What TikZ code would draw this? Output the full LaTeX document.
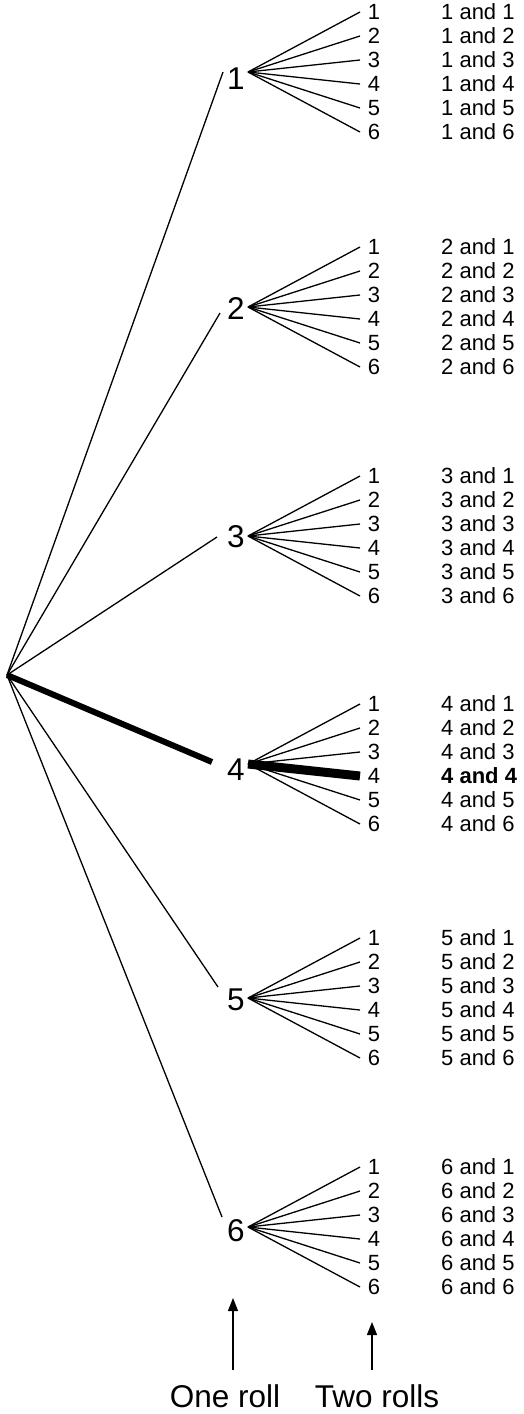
\documentclass[tikz,border=0pt]{standalone}
\usepackage{fontspec}
\setmainfont{Liberation Sans}
\usetikzlibrary{arrows.meta}
\begin{document}
\begin{tikzpicture}[x=1pt,y=-1pt,
  branch/.style={line width=1.3pt},
  heavyone/.style={line width=6pt},
  heavytwo/.style={line width=9pt},
  big/.style={inner sep=0pt,font=\fontsize{31.5}{37}\selectfont},
  small/.style={inner sep=0pt,font=\fontsize{22}{26}\selectfont},
  pointer/.style={line width=1.3pt,-{Triangle[length=13pt,width=10pt]}}]
\useasboundingbox (0,0) rectangle (524,1414);
\coordinate (root) at (7,675);
\foreach \g/\fy/\ex/\ey/\ly in {1/72/223/72/79, 2/307/220/313/308.5, 3/536/217/537/537, 4/764/212/762/770, 5/998/218/987/999.5, 6/1227/222/1217/1231} {
  \coordinate (e\g) at (\ex,\ey);
  \coordinate (f\g) at (248,\fy);
  \node[big] (L\g) at (236,\ly) {\g};
  \ifnum\g=4
    \draw[heavyone] (root) -- (e\g);
  \else
    \draw[branch] (root) -- (e\g);
  \fi
  \foreach \j in {1,...,6} {
    \pgfmathsetmacro\ry{\fy+(\j-3.5)*24}
    \coordinate (r\g\j) at (360,\ry);
    \node[small] (d\g\j) at (374,\ry) {\j};
    \ifnum\g\j=44
      \draw[heavytwo] (f\g) -- (r\g\j);
      \node[small,anchor=west,font=\fontsize{22}{26}\selectfont\bfseries] (t\g\j) at (441,\ry) {\g{} and \j};
    \else
      \draw[branch] (f\g) -- (r\g\j);
      \node[small,anchor=west] (t\g\j) at (441,\ry) {\g{} and \j};
    \fi
  }
}
\node[big] (one) at (225,1396) {One roll};
\node[big] (two) at (377,1396) {Two rolls};
\coordinate (s1) at (233,1370);
\coordinate (a1) at (233,1298);
\coordinate (s2) at (372,1370);
\coordinate (a2) at (372,1322);
\draw[pointer] (s1) -- (a1);
\draw[pointer] (s2) -- (a2);
\end{tikzpicture}
\end{document}
